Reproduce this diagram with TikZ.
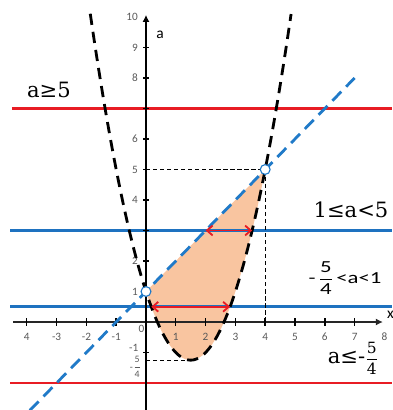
\documentclass[tikz,border=0pt]{standalone}
\usepackage{fontspec}
\setmainfont{DejaVu Serif}
\newfontfamily\tickfont{Carlito}
\newfontfamily\widefont[FakeStretch=1.35]{Carlito}
\usetikzlibrary{arrows.meta}

\definecolor{lineRed}{RGB}{232,28,36}
\definecolor{lineBlue}{RGB}{30,114,192}
\definecolor{dashBlue}{RGB}{32,122,200}
\definecolor{areaFill}{RGB}{249,197,160}

\newcommand{\fr}[2]{$\displaystyle\frac{\hbox{#1}}{\hbox{#2}}$}

\begin{document}
\begin{tikzpicture}[x=0.745cm, y=0.7625cm,
    level/.style={line width=2pt},
    ticklab/.style={font=\tickfont\fontsize{8}{9}\selectfont, text=black!65, inner sep=1pt},
    cond/.style={font=\fontsize{15}{17}\selectfont, inner sep=0pt},
    hole/.style={circle, draw=dashBlue, fill=white, line width=0.8pt, minimum size=7pt, inner sep=0pt},
    gap/.style={lineRed, line width=1.3pt, {Straight Barb[length=4pt,width=7pt]}-{Straight Barb[length=4pt,width=7pt]}}]
    \useasboundingbox (-4.899,-2.885) rectangle (8.255,10.557);

    % area between the line and the parabola
    \fill[areaFill] plot[domain=0:4, samples=60] (\x, {\x*\x-3*\x+1}) -- cycle;

    % levels of a
    \draw[level, lineRed] (-4.5,7) -- (8.26,7);
    \draw[level, lineBlue] (-4.56,3) -- (8.26,3);
    \draw[level, lineBlue] (-4.56,0.5) -- (8.26,0.5);
    \draw[level, lineRed] (-4.56,-2) -- (8.26,-2);

    % helper lines
    \draw[line width=0.7pt, dash pattern=on 3pt off 2pt] (0,5) -- (4,5) -- (4,0);
    \draw[line width=0.7pt, dash pattern=on 3pt off 2pt] (0,-1.25) -- (1.5,-1.25);

    % axes
    \draw[line width=1pt, black!85, -{Latex[length=5pt,width=5pt]}] (-4.46,0) -- (7.95,0);
    \draw[line width=1.5pt, -{Latex[length=5pt,width=5pt]}] (0,-2.9) -- (0,10.07);
    \foreach \i in {-4,...,-1,1,2,...,7}
        \draw[line width=1pt] (\i,-0.13) -- (\i,0.13);
    \foreach \j in {-1,1,2,...,9}
        \draw[line width=1pt] (-0.1,\j) -- (0.1,\j);

    \node[ticklab] (x-4) at (-4,-0.49) {4};
    \foreach \i in {-3,-2,-1}
        \node[ticklab] (x\i) at (\i,-0.49) {\i};
    \node[ticklab] (x0) at (-0.15,-0.22) {0};
    \foreach \i in {1,...,8}
        \node[ticklab] (x\i) at (\i,-0.49) {\i};
    \foreach \j in {1,2,4,5,6,8,9,10}
        \node[ticklab, anchor=east] (y\j) at (-0.22,\j) {\j};
    \node[ticklab, anchor=east] (ym1) at (-0.2,-0.86) {-1};
    \node[ticklab, anchor=east, font=\tickfont\fontsize{7}{8}\selectfont] (ym54) at (-0.1,-1.48) {-\fr{5}{4}};

    \node[font=\tickfont\fontsize{11}{12}\selectfont] (alab) at (0.47,9.41) {a};
    \node[font=\tickfont\fontsize{11}{12}\selectfont] (xlab) at (8.2,0.25) {x};

    % parabola and line
    \draw[line width=2pt, dash pattern=on 8pt off 5pt] plot[domain=-1.87:4.87, samples=120] (\x, {\x*\x-3*\x+1});
    \draw[dashBlue, line width=2pt, dash pattern=on 9pt off 5pt] (-3.9,-2.9) -- (7,8);

    \node[hole] (P0) at (0,1) {};
    \node[hole] (P4) at (4,5) {};

    % red double arrows
    \coordinate (L3) at (2,3);
    \coordinate (R3) at (3.5616,3);
    \coordinate (L1) at (0.1771,0.5);
    \coordinate (R1) at (2.8229,0.5);
    \draw[gap] (L3) -- (R3);
    \draw[gap] (L1) -- (R1);

    % conditions
    \node[cond] (c1) at (-3.26,7.61) {a≥5};
    \node[cond] (c2) at (6.88,3.67) {1≤a<5};
    \node[font=\widefont\fontsize{12}{14}\selectfont, inner sep=0pt] (c3) at (6.68,1.44) {-\,\fr{5}{4}\,<a<1};
    \node[cond] (c4) at (6.95,-1.18) {a≤-{\fontsize{11}{12}\selectfont\fr{5}{4}}};
\end{tikzpicture}
\end{document}
